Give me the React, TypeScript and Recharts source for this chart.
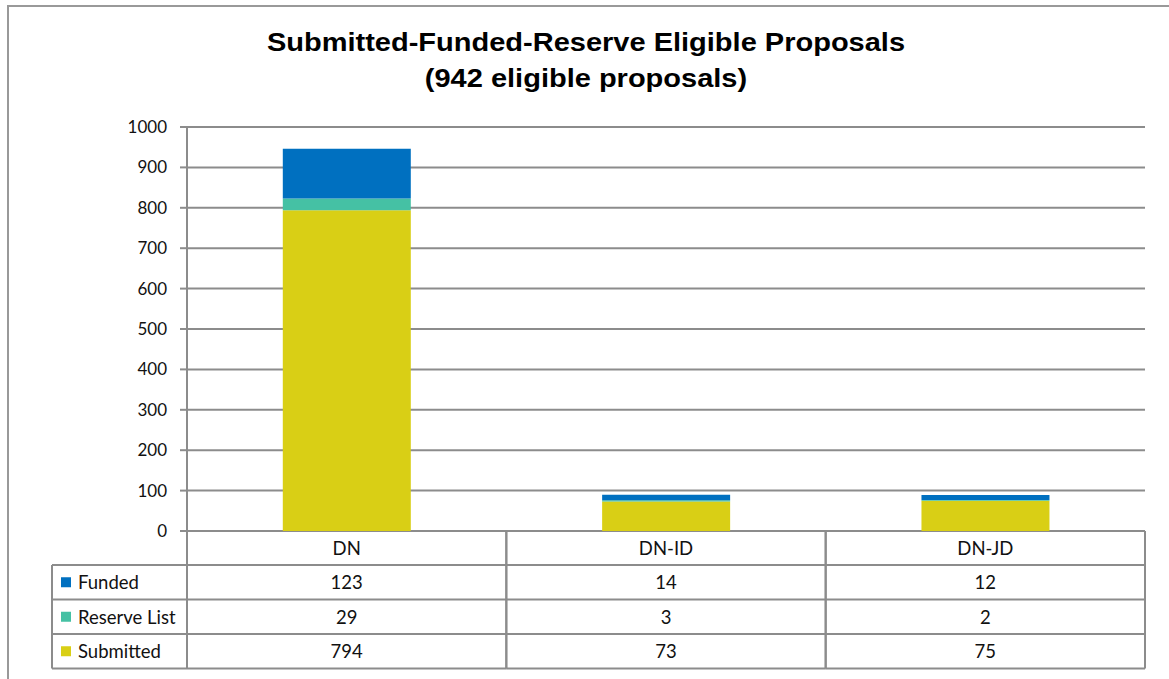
import { BarChart, Bar, XAxis, YAxis, CartesianGrid } from "recharts";

const categories = ["DN", "DN-ID", "DN-JD"];
const funded = [123, 14, 12];
const reserveList = [29, 3, 2];
const submitted = [794, 73, 75];
const yTicks = [0, 100, 200, 300, 400, 500, 600, 700, 800, 900, 1000];

const FUNDED_COLOR = "#0070c0";
const RESERVE_COLOR = "#45c1a4";
const SUBMITTED_COLOR = "#d9cf15";
const LINE_COLOR = "#8c8c8c";
const TEXT_COLOR = "#111";
const FONT = "Lato, 'Open Sans', sans-serif";

// table rows, top to bottom, as in the original
const tableRows = [
  { label: "Funded", color: FUNDED_COLOR, values: funded },
  { label: "Reserve List", color: RESERVE_COLOR, values: reserveList },
  { label: "Submitted", color: SUBMITTED_COLOR, values: submitted },
];

const data = categories.map((name, i) => ({
  name,
  submitted: submitted[i],
  reserve: reserveList[i],
  funded: funded[i],
}));

const WIDTH = 1169;
const HEIGHT = 679;
const MARGIN = { top: 127, right: 24, bottom: 10, left: 127 };
const Y_AXIS_WIDTH = 60;
const X_AXIS_HEIGHT = 138;
const BAND = (WIDTH - MARGIN.left - MARGIN.right - Y_AXIS_WIDTH) / categories.length;
const HEADER_H = 34;
const ROW_H = 34.5;
const LEGEND_LEFT = 52;

function TableTick(props: any) {
  const { x, y, payload } = props;
  const index = props.index ?? categories.indexOf(payload.value);
  const left = x - BAND / 2;
  const right = x + BAND / 2;
  const bottom = y + HEADER_H + ROW_H * tableRows.length;
  const lineProps = { stroke: LINE_COLOR, strokeWidth: 2 };

  return (
    <g>
      <line x1={left} x2={left} y1={y} y2={bottom} {...lineProps} />
      <line x1={right} x2={right} y1={y} y2={bottom} {...lineProps} />
      {tableRows.map((_, r) => (
        <line
          key={r}
          x1={left}
          x2={right}
          y1={y + HEADER_H + ROW_H * r}
          y2={y + HEADER_H + ROW_H * r}
          {...lineProps}
        />
      ))}
      <line x1={left} x2={right} y1={bottom} y2={bottom} {...lineProps} />
      <text
        x={x}
        y={y + HEADER_H / 2}
        textAnchor="middle"
        dominantBaseline="central"
        fill={TEXT_COLOR}
        fontSize={18.5}
        fontFamily={FONT}
      >
        {payload.value}
      </text>
      {tableRows.map((row, r) => (
        <text
          key={row.label}
          x={x}
          y={y + HEADER_H + ROW_H * r + ROW_H / 2}
          textAnchor="middle"
          dominantBaseline="central"
          fill={TEXT_COLOR}
          fontSize={18.5}
          fontFamily={FONT}
        >
          {row.values[index]}
        </text>
      ))}
      {index === 0 && (
        <g>
          <line x1={LEGEND_LEFT} x2={LEGEND_LEFT} y1={y + HEADER_H} y2={bottom} {...lineProps} />
          {tableRows.map((row, r) => {
            const top = y + HEADER_H + ROW_H * r;
            return (
              <g key={row.label}>
                <line x1={LEGEND_LEFT} x2={left} y1={top} y2={top} {...lineProps} />
                <rect x={61} y={top + ROW_H / 2 - 5} width={10} height={10} fill={row.color} />
                <text
                  x={78}
                  y={top + ROW_H / 2}
                  dominantBaseline="central"
                  fill={TEXT_COLOR}
                  fontSize={18.5}
                  fontFamily={FONT}
                >
                  {row.label}
                </text>
              </g>
            );
          })}
          <line x1={LEGEND_LEFT} x2={left} y1={bottom} y2={bottom} {...lineProps} />
        </g>
      )}
    </g>
  );
}

const titleStyle: React.CSSProperties = {
  position: "absolute",
  left: 0,
  width: 1172,
  textAlign: "center",
  fontFamily: "'Liberation Sans', Arial, sans-serif",
  fontWeight: "bold",
  fontSize: 25,
  lineHeight: "36px",
  color: "#000",
  transform: "scaleX(1.16)",
  transformOrigin: "50% 50%",
  whiteSpace: "nowrap",
};

export default function App() {
  return (
    <div style={{ position: "relative", width: WIDTH, height: HEIGHT, overflow: "hidden", background: "#fff" }}>
      <style>{`body{margin:0}`}</style>
      <div
        style={{
          position: "absolute",
          left: 7,
          top: 5,
          width: WIDTH + 20,
          height: HEIGHT + 20,
          border: "2px solid #999",
          boxSizing: "border-box",
        }}
      />
      <div style={{ ...titleStyle, top: 24 }}>Submitted-Funded-Reserve Eligible Proposals</div>
      <div style={{ ...titleStyle, top: 60 }}>(942 eligible proposals)</div>
      <div style={{ position: "absolute", left: 0, top: 0 }}>
        <BarChart
          width={WIDTH}
          height={HEIGHT}
          data={data}
          margin={MARGIN}
          barCategoryGap="30%"
        >
          <CartesianGrid vertical={false} stroke={LINE_COLOR} strokeWidth={2} />
          <YAxis
            width={Y_AXIS_WIDTH}
            domain={[0, 1000]}
            ticks={yTicks}
            interval={0}
            axisLine={{ stroke: LINE_COLOR, strokeWidth: 2 }}
            tickLine={{ stroke: LINE_COLOR, strokeWidth: 2 }}
            tickSize={7}
            tickMargin={13}
            tick={{ fill: TEXT_COLOR, fontSize: 17, fontFamily: FONT }}
          />
          <XAxis
            dataKey="name"
            height={X_AXIS_HEIGHT}
            interval={0}
            axisLine={false}
            tickLine={false}
            tickSize={0}
            tickMargin={0}
            tick={(p: any) => <TableTick {...p} />}
          />
          <Bar dataKey="submitted" stackId="a" fill={SUBMITTED_COLOR} isAnimationActive={false} />
          <Bar dataKey="reserve" stackId="a" fill={RESERVE_COLOR} isAnimationActive={false} />
          <Bar dataKey="funded" stackId="a" fill={FUNDED_COLOR} isAnimationActive={false} />
        </BarChart>
      </div>
    </div>
  );
}
